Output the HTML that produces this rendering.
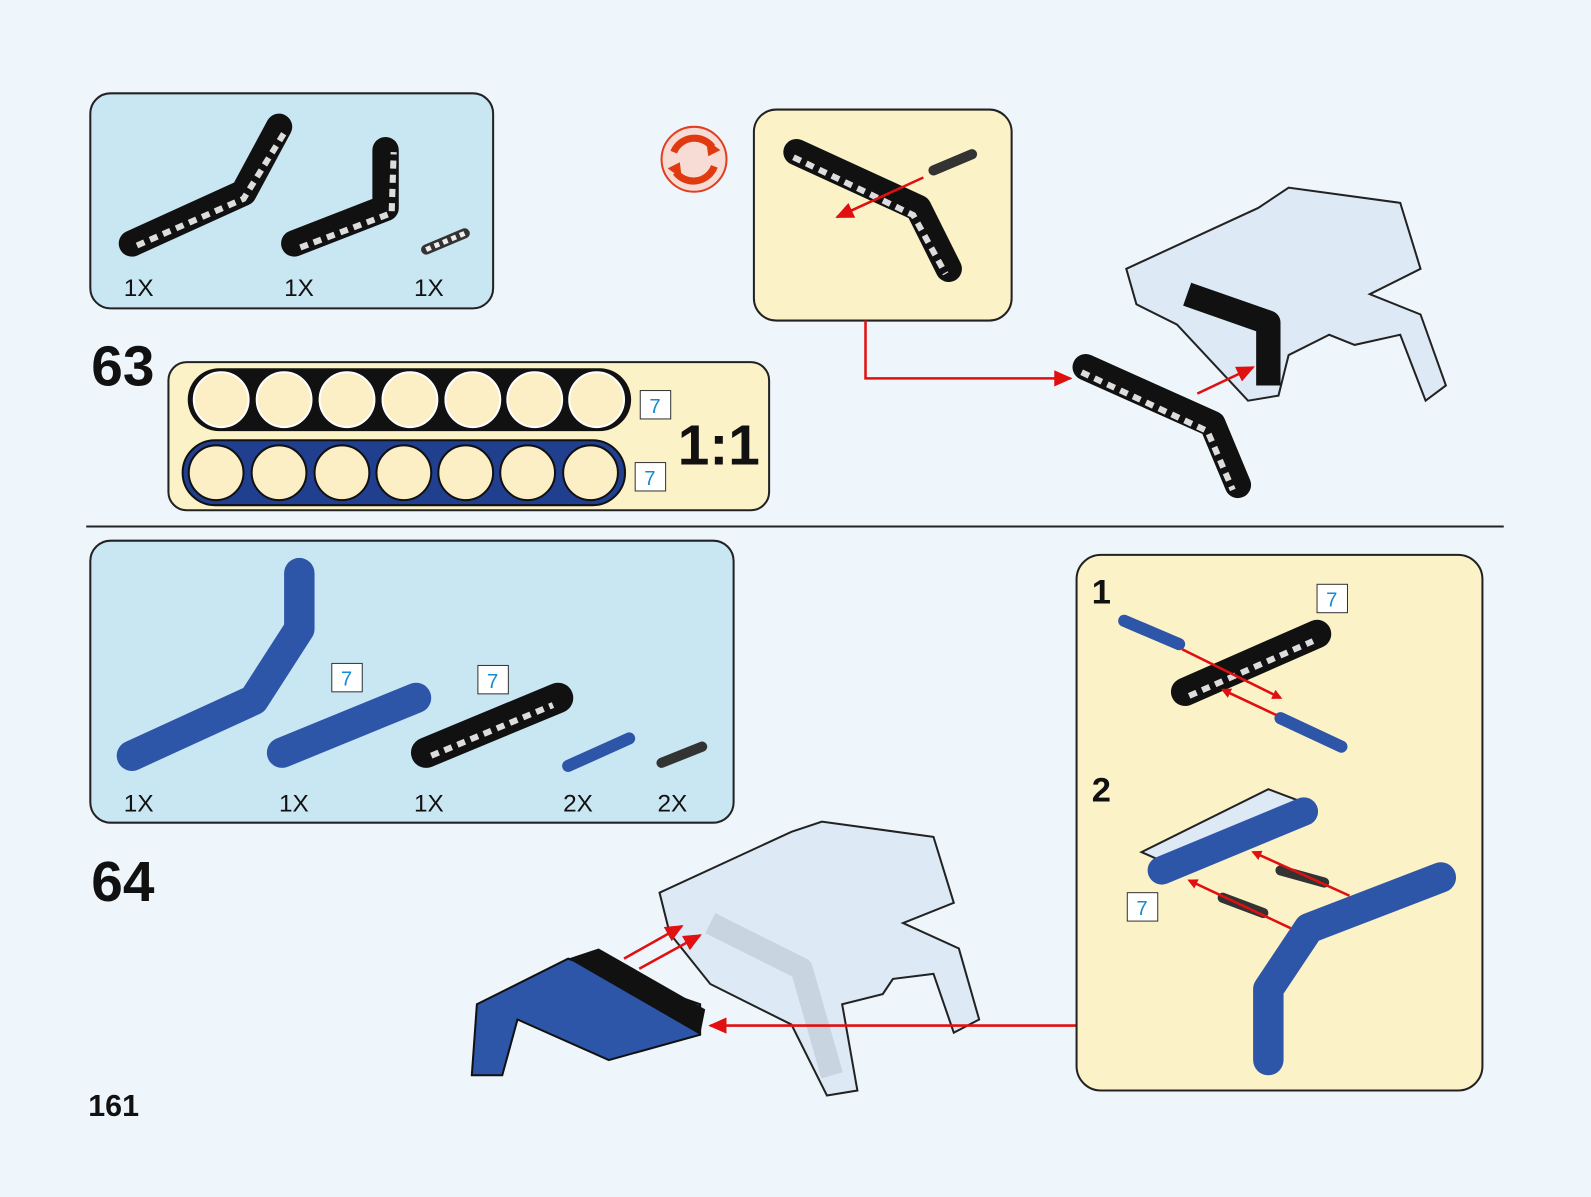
<!DOCTYPE html>
<html><head><meta charset="utf-8"><style>
html,body{margin:0;padding:0;background:#eef6fc;}
svg{display:block;font-family:"Liberation Sans",sans-serif;}
</style></head><body>
<svg width="1591" height="1197" viewBox="0 0 1568 1180" preserveAspectRatio="none" xmlns="http://www.w3.org/2000/svg">
<defs>
<marker id="ar" markerWidth="10" markerHeight="10" refX="8" refY="5" orient="auto" markerUnits="userSpaceOnUse"><path d="M0,0 L10,5 L0,10 z" fill="#e01010"/></marker>
<marker id="ar2" markerWidth="18" markerHeight="16" refX="16" refY="8" orient="auto" markerUnits="userSpaceOnUse"><path d="M0,0 L18,8 L0,16 z" fill="#e01010"/></marker>
</defs>
<rect width="1568" height="1180" fill="#eef6fc"/>

<!-- Parts 63 -->
<rect x="89" y="92" width="397" height="212" rx="20" fill="#c9e6f3" stroke="#222" stroke-width="2"/>
<polyline points="130,240 240,190 275,125" fill="none" stroke="#111" stroke-width="26" stroke-linecap="round" stroke-linejoin="round"/>
<polyline points="135,242 240,196 282,128" fill="none" stroke="#ddd" stroke-width="6" stroke-dasharray="8 6"/>
<polyline points="290,240 380,205 380,148" fill="none" stroke="#111" stroke-width="26" stroke-linecap="round" stroke-linejoin="round"/>
<polyline points="296,244 386,210 388,150" fill="none" stroke="#ddd" stroke-width="6" stroke-dasharray="8 6"/>
<line x1="420" y1="246" x2="458" y2="230" stroke="#333" stroke-width="10" stroke-linecap="round"/>
<line x1="420" y1="246" x2="458" y2="230" stroke="#eee" stroke-width="5" stroke-dasharray="5 4"/>
<g font-size="24" fill="#111"><text x="122" y="292">1X</text><text x="280" y="292">1X</text><text x="408" y="292">1X</text></g>

<text x="90" y="380" font-size="56" font-weight="bold" fill="#111">63</text>

<rect x="166" y="357" width="592" height="146" rx="18" fill="#fcf2c8" stroke="#222" stroke-width="2"/>
<rect x="185" y="363" width="437" height="62" rx="31" fill="#111"/>
<g fill="#fcefc6" stroke="#fff" stroke-width="2">
<circle cx="218" cy="394" r="27"/><circle cx="280" cy="394" r="27"/><circle cx="342" cy="394" r="27"/><circle cx="404" cy="394" r="27"/><circle cx="466" cy="394" r="27"/><circle cx="527" cy="394" r="27"/><circle cx="588" cy="394" r="27"/>
</g>
<rect x="180" y="434" width="436" height="64" rx="32" fill="#213f8f" stroke="#111" stroke-width="2"/>
<g fill="#fcefc6" stroke="#111" stroke-width="2">
<circle cx="213" cy="466" r="27"/><circle cx="275" cy="466" r="27"/><circle cx="337" cy="466" r="27"/><circle cx="398" cy="466" r="27"/><circle cx="459" cy="466" r="27"/><circle cx="520" cy="466" r="27"/><circle cx="582" cy="466" r="27"/>
</g>
<g font-size="20" fill="#1a8ad0"><rect x="631" y="385" width="30" height="28" fill="#fff" stroke="#333"/><text x="640" y="407">7</text>
<rect x="626" y="456" width="30" height="28" fill="#fff" stroke="#333"/><text x="635" y="478">7</text></g>
<text x="668" y="458" font-size="56" font-weight="bold" fill="#111">1:1</text>

<!-- rotate icon -->
<circle cx="684" cy="157" r="32" fill="#f6dcd4" stroke="#e04020" stroke-width="2"/>
<path d="M664,150 A22,22 0 0 1 702,145" fill="none" stroke="#e03a10" stroke-width="7"/>
<path d="M704,164 A22,22 0 0 1 666,170" fill="none" stroke="#e03a10" stroke-width="7"/>
<path d="M696,138 L710,148 L698,154z M672,176 L658,166 L670,160z" fill="#e03a10"/>

<!-- callout 63 -->
<rect x="743" y="108" width="254" height="208" rx="22" fill="#fcf2c8" stroke="#222" stroke-width="2"/>
<polyline points="785,150 905,205 935,265" fill="none" stroke="#111" stroke-width="26" stroke-linecap="round" stroke-linejoin="round"/>
<polyline points="782,155 900,212 932,270" fill="none" stroke="#ddd" stroke-width="6" stroke-dasharray="8 6"/>
<line x1="920" y1="168" x2="958" y2="152" stroke="#333" stroke-width="10" stroke-linecap="round"/>
<line x1="910" y1="175" x2="825" y2="214" stroke="#e01010" stroke-width="2.5" marker-end="url(#ar2)"/>
<polyline points="853,316 853,373 1055,373" fill="none" stroke="#e01010" stroke-width="2.5" marker-end="url(#ar2)"/>

<!-- model 63 -->
<path d="M1110,265 L1240,205 L1270,185 L1380,200 L1400,265 L1350,290 L1400,310 L1425,380 L1405,395 L1380,330 L1335,340 L1310,330 L1270,350 L1260,390 L1230,395 L1160,320 L1120,300 Z" fill="#dde9f4" stroke="#222" stroke-width="2"/>
<polyline points="1170,290 1250,318 1250,380" fill="none" stroke="#111" stroke-width="24" stroke-linejoin="round"/>
<polyline points="1070,362 1195,418 1220,478" fill="none" stroke="#111" stroke-width="26" stroke-linecap="round" stroke-linejoin="round"/>
<polyline points="1066,367 1190,425 1215,483" fill="none" stroke="#ddd" stroke-width="6" stroke-dasharray="8 6"/>
<line x1="1180" y1="388" x2="1235" y2="362" stroke="#e01010" stroke-width="2.5" marker-end="url(#ar2)"/>

<line x1="85" y1="519" x2="1482" y2="519" stroke="#222" stroke-width="2"/>

<!-- Parts 64 -->
<rect x="89" y="533" width="634" height="278" rx="20" fill="#c9e6f3" stroke="#222" stroke-width="2"/>
<polyline points="130,745 250,690 295,620 295,565" fill="none" stroke="#2d55a8" stroke-width="30" stroke-linecap="round" stroke-linejoin="round"/>
<line x1="278" y1="742" x2="410" y2="688" stroke="#2d55a8" stroke-width="30" stroke-linecap="round"/>
<line x1="420" y1="742" x2="550" y2="688" stroke="#111" stroke-width="30" stroke-linecap="round"/>
<line x1="425" y1="745" x2="545" y2="695" stroke="#ddd" stroke-width="6" stroke-dasharray="8 6"/>
<line x1="560" y1="755" x2="620" y2="728" stroke="#2d55a8" stroke-width="12" stroke-linecap="round"/>
<line x1="652" y1="752" x2="692" y2="736" stroke="#333" stroke-width="10" stroke-linecap="round"/>
<g font-size="20" fill="#1a8ad0"><rect x="327" y="654" width="30" height="28" fill="#fff" stroke="#333"/><text x="336" y="676">7</text>
<rect x="471" y="656" width="30" height="28" fill="#fff" stroke="#333"/><text x="480" y="678">7</text></g>
<g font-size="24" fill="#111"><text x="122" y="800">1X</text><text x="275" y="800">1X</text><text x="408" y="800">1X</text><text x="555" y="800">2X</text><text x="648" y="800">2X</text></g>

<text x="90" y="888" font-size="56" font-weight="bold" fill="#111">64</text>
<text x="87" y="1100" font-size="30" font-weight="bold" fill="#111">161</text>

<!-- model 64 -->
<path d="M650,880 L780,820 L810,810 L920,825 L940,890 L890,910 L945,935 L965,1005 L940,1018 L920,960 L880,965 L870,980 L830,990 L845,1075 L815,1080 L780,1010 L700,970 L660,920 Z" fill="#dde9f4" stroke="#222" stroke-width="2"/>
<polyline points="700,910 790,955 820,1060" fill="none" stroke="#c8d4e0" stroke-width="22" stroke-linejoin="round"/>
<path d="M470,990 L560,945 L690,990 L690,1020 L600,1045 L510,1005 L495,1060 L465,1060 Z" fill="#2d55a8" stroke="#111" stroke-width="2"/>
<path d="M560,945 L590,935 L695,995 L690,1020 Z" fill="#111"/>
<line x1="615" y1="945" x2="672" y2="913" stroke="#e01010" stroke-width="2.5" marker-end="url(#ar2)"/>
<line x1="630" y1="955" x2="690" y2="922" stroke="#e01010" stroke-width="2.5" marker-end="url(#ar2)"/>
<line x1="1061" y1="1011" x2="700" y2="1011" stroke="#e01010" stroke-width="2.5" marker-end="url(#ar2)"/>

<!-- callout 64 -->
<rect x="1061" y="547" width="400" height="528" rx="24" fill="#fcf2c8" stroke="#222" stroke-width="2"/>
<text x="1076" y="595" font-size="34" font-weight="bold" fill="#111">1</text>
<text x="1076" y="790" font-size="34" font-weight="bold" fill="#111">2</text>
<g font-size="20" fill="#1a8ad0"><rect x="1298" y="576" width="30" height="28" fill="#fff" stroke="#333"/><text x="1307" y="598">7</text>
<rect x="1111" y="880" width="30" height="28" fill="#fff" stroke="#333"/><text x="1120" y="902">7</text></g>
<line x1="1168" y1="682" x2="1298" y2="625" stroke="#111" stroke-width="28" stroke-linecap="round"/>
<line x1="1172" y1="686" x2="1294" y2="632" stroke="#ddd" stroke-width="6" stroke-dasharray="8 6"/>
<line x1="1108" y1="612" x2="1162" y2="635" stroke="#2d55a8" stroke-width="12" stroke-linecap="round"/>
<line x1="1262" y1="708" x2="1322" y2="736" stroke="#2d55a8" stroke-width="12" stroke-linecap="round"/>
<line x1="1165" y1="640" x2="1262" y2="688" stroke="#e01010" stroke-width="2.5" marker-end="url(#ar)"/>
<line x1="1258" y1="705" x2="1205" y2="680" stroke="#e01010" stroke-width="2.5" marker-end="url(#ar)"/>
<path d="M1125,840 L1250,778 L1295,795 L1170,860 Z" fill="#dde9f4" stroke="#222" stroke-width="2"/>
<line x1="1145" y1="858" x2="1285" y2="800" stroke="#2d55a8" stroke-width="28" stroke-linecap="round"/>
<polyline points="1420,865 1290,915 1250,975 1250,1045" fill="none" stroke="#2d55a8" stroke-width="30" stroke-linecap="round" stroke-linejoin="round"/>
<line x1="1262" y1="858" x2="1305" y2="870" stroke="#333" stroke-width="10" stroke-linecap="round"/>
<line x1="1205" y1="885" x2="1245" y2="900" stroke="#333" stroke-width="10" stroke-linecap="round"/>
<line x1="1330" y1="883" x2="1235" y2="840" stroke="#e01010" stroke-width="2.5" marker-end="url(#ar)"/>
<line x1="1272" y1="915" x2="1172" y2="868" stroke="#e01010" stroke-width="2.5" marker-end="url(#ar)"/>
</svg>
</body></html>
